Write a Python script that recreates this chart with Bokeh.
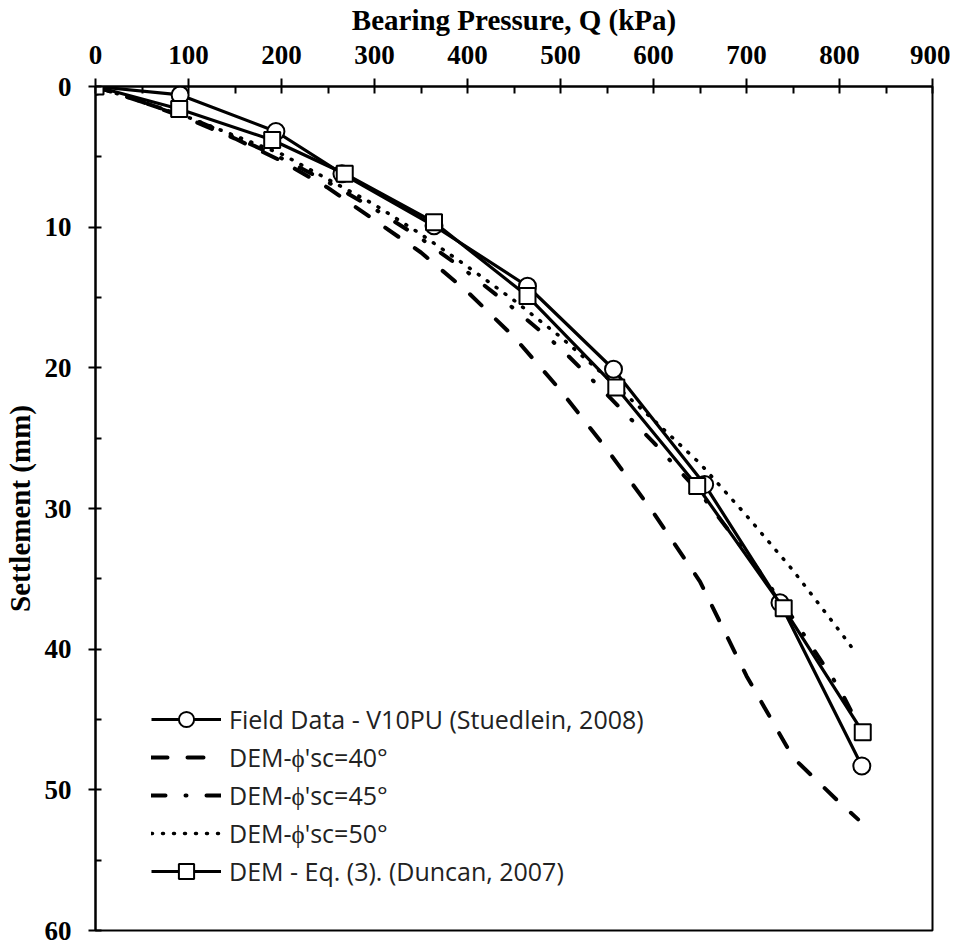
from bokeh.plotting import figure
from bokeh.models import Range1d, FixedTicker, Legend, LegendItem
from bokeh.embed import file_html
from bokeh.resources import INLINE

# ---- data ----
field_q = [0, 91, 194, 265, 364, 464.5, 557, 655, 736, 824]
field_s = [0, 0.6, 3.2, 6.2, 9.9, 14.2, 20.1, 28.3, 36.7, 48.3]

dem40_q = [0, 50, 100, 150, 200, 250, 300, 350, 400, 450, 500, 550, 600, 650, 700, 750, 800, 820]
dem40_s = [0, 1.1, 2.3, 3.7, 5.3, 7.2, 9.5, 11.8, 14.6, 17.8, 21.6, 25.8, 30.3, 35.2, 41.9, 47.7, 50.9, 52.1]

dem45_q = [0, 50, 100, 150, 200, 250, 300, 350, 400, 450, 500, 550, 600, 650, 700, 750, 800, 825]
dem45_s = [0, 1.1, 2.2, 3.6, 5.1, 6.8, 8.7, 10.8, 13.2, 15.8, 18.6, 21.9, 25.3, 28.9, 33.2, 37.8, 42.8, 46.0]

dem50_q = [0, 50, 100, 150, 200, 250, 300, 350, 400, 450, 500, 550, 600, 650, 700, 750, 800, 818]
dem50_s = [0, 1.1, 2.2, 3.5, 4.8, 6.6, 8.4, 10.5, 12.8, 15.2, 17.8, 20.7, 23.7, 26.8, 30.5, 34.4, 38.7, 40.3]

eq_q = [0, 90, 190, 268, 364, 464.5, 560, 647, 740, 825]
eq_s = [0, 1.6, 3.8, 6.2, 9.65, 14.9, 21.4, 28.4, 37.1, 45.9]

x_ticks = [0, 100, 200, 300, 400, 500, 600, 700, 800, 900]
x_minor = [50, 150, 250, 350, 450, 550, 650, 750, 850]
y_ticks = [0, 10, 20, 30, 40, 50, 60]
y_minor = [5, 15, 25, 35, 45, 55]

labels = ["Field Data - V10PU (Stuedlein, 2008)", "DEM-\u03d5'sc=40\u00b0", "DEM-\u03d5'sc=45\u00b0",
          "DEM-\u03d5'sc=50\u00b0", "DEM - Eq. (3). (Duncan, 2007)"]

p = figure(frame_width=837, frame_height=844, output_backend="svg", toolbar_location=None,
           x_range=Range1d(0, 900), y_range=Range1d(60, 0), x_axis_location="above",
           min_border_left=92, min_border_top=86, min_border_right=18, min_border_bottom=15)
p.grid.visible = False
p.outline_line_color = "black"
p.outline_line_width = 2
p.background_fill_color = "white"
p.border_fill_color = "white"

serif = "Liberation Serif"
for ax in (p.xaxis[0], p.yaxis[0]):
    ax.axis_line_width = 2
    ax.axis_line_color = "black"
    ax.major_tick_line_width = 2
    ax.minor_tick_line_width = 2
    ax.major_tick_line_color = "black"
    ax.minor_tick_line_color = "black"
    ax.major_label_text_font = serif
    ax.major_label_text_font_style = "bold"
    ax.major_label_text_font_size = "27px"
    ax.major_label_text_color = "black"
    ax.axis_label_text_font = serif
    ax.axis_label_text_font_style = "bold"
    ax.axis_label_text_font_size = "29px"
    ax.axis_label_text_color = "black"

xa = p.xaxis[0]
xa.ticker = FixedTicker(ticks=x_ticks, minor_ticks=x_minor)
xa.axis_label = "Bearing Pressure, Q (kPa)"
xa.major_tick_out = 8
xa.major_tick_in = 7
xa.minor_tick_in = 7
xa.minor_tick_out = 0
xa.major_label_standoff = 15
xa.axis_label_standoff = 7

ya = p.yaxis[0]
ya.ticker = FixedTicker(ticks=y_ticks, minor_ticks=y_minor)
ya.axis_label = "Settlement (mm)"
ya.major_tick_out = 7
ya.major_tick_in = 6
ya.minor_tick_in = 6
ya.minor_tick_out = 0
ya.major_label_standoff = 17
ya.axis_label_standoff = 6

# ---- series ----
r40 = p.line(dem40_q, dem40_s, line_color="black", line_width=4, line_dash="16 20", line_cap="round")
r45 = p.line(dem45_q, dem45_s, line_color="black", line_width=4, line_dash="14 20 1 20", line_cap="round")
r50 = p.line(dem50_q, dem50_s, line_color="black", line_width=3.5, line_dash="1 10", line_cap="round")

rf_l = p.line(field_q, field_s, line_color="black", line_width=3.2)
rf_m = p.scatter(field_q, field_s, marker="circle", size=17, fill_color="white", line_color="black", line_width=2)

re_l = p.line(eq_q, eq_s, line_color="black", line_width=3.2)
re_m = p.scatter(eq_q, eq_s, marker="square", size=16, fill_color="white", line_color="black", line_width=2)

legend = Legend(items=[
    LegendItem(label=labels[0], renderers=[rf_l, rf_m]),
    LegendItem(label=labels[1], renderers=[r40]),
    LegendItem(label=labels[2], renderers=[r45]),
    LegendItem(label=labels[3], renderers=[r50]),
    LegendItem(label=labels[4], renderers=[re_l, re_m]),
], location=(56, 40))
legend.glyph_width = 70
legend.glyph_height = 38
legend.label_height = 38
legend.label_standoff = 8
legend.spacing = 0
legend.padding = 0
legend.margin = 0
legend.border_line_color = None
legend.background_fill_alpha = 0
legend.label_text_font = "Open Sans"
legend.label_text_font_size = "25px"
legend.label_text_color = "#222222"
p.add_layout(legend)

open("out.html", "w").write(file_html(p, INLINE))
